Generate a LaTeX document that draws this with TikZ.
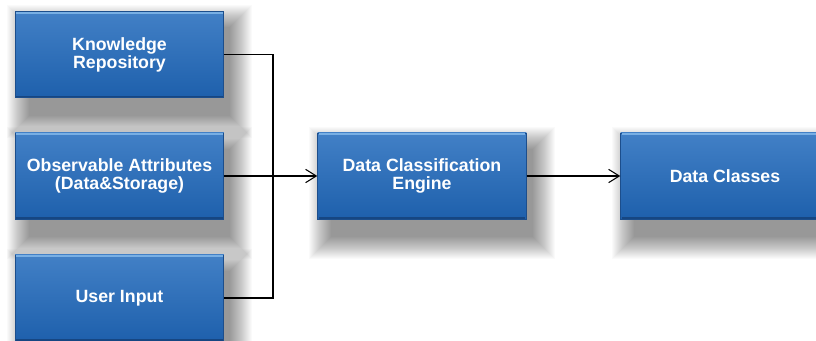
\documentclass[tikz,border=0pt]{standalone}
\usepackage{fontspec}
\setmainfont{Liberation Sans}
\usetikzlibrary{arrows.meta,backgrounds}
\pgfdeclarelayer{canvas}
\pgfsetlayers{canvas,background,main}
\definecolor{boxtop}{RGB}{66,128,198}
\definecolor{boxbot}{RGB}{30,96,172}
\definecolor{boxedge}{RGB}{28,78,140}
\definecolor{boxhi}{RGB}{120,175,228}
\definecolor{boxlo}{RGB}{22,70,130}
\tikzset{
  procbox/.style={
    draw=boxedge, line width=0.6pt,
    top color=boxtop, bottom color=boxbot,
    minimum width=156.5pt, minimum height=64.5pt,
    text=white, font=\bfseries\fontsize{13.3}{13.5}\selectfont,
    align=center, inner sep=2pt
  },
  link/.style={draw=black, line width=0.8pt},
  flow/.style={link, -{Straight Barb[length=8pt,width=10pt,line width=0.8pt]}}
}
\begin{document}
\begin{tikzpicture}[x=0.75pt,y=-0.75pt]
  \begin{pgfonlayer}{canvas}
    \fill[white] (0,0) rectangle (816,341);
  \end{pgfonlayer}
  \useasboundingbox (0,0) rectangle (816,341);
  \clip (0,0) rectangle (816,341);

  % source boxes on the left
  \node[procbox] (kr) at (119.5,54.5) {Knowledge\\Repository};
  \node[procbox] (oa) at (119.5,176) {Observable Attributes\\(Data\&Storage)};
  \node[procbox] (ui) at (119.5,298) {User Input};

  % processing stage and result
  \node[procbox] (dce) at (422,176) {Data Classification\\Engine};
  \node[procbox] (dc) at (725,176) {Data Classes};

  % soft drop shadows, built from stacked translucent rectangles
  \begin{scope}[on background layer]
    \foreach \b in {kr,oa,ui,dce,dc}{
      \foreach \i in {0,...,22}{
        \fill[black,opacity=0.021]
          ([shift={(14-\i,16-\i)}]\b.north west)
          rectangle ([shift={(6+\i,18+\i)}]\b.south east);
      }
    }
  \end{scope}

  % bevel highlight and shade along each box
  \foreach \b in {kr,oa,ui,dce,dc}{
    \draw[boxhi, line width=1.4pt]
      ([xshift=1pt,yshift=-1.2pt]\b.north west) -- ([xshift=-1pt,yshift=-1.2pt]\b.north east);
    \draw[boxlo, line width=1.2pt]
      ([xshift=1pt,yshift=1pt]\b.south west) -- ([xshift=-1pt,yshift=1pt]\b.south east);
  }

  % merge point of the three inputs
  \coordinate (j) at (273,176);

  \draw[link] (kr.east) -| (j);
  \draw[link] (ui.east) -| (j);
  \draw[flow] (oa.east) -- (dce.west);
  \draw[flow] (dce.east) -- (dc.west);
\end{tikzpicture}
\end{document}
